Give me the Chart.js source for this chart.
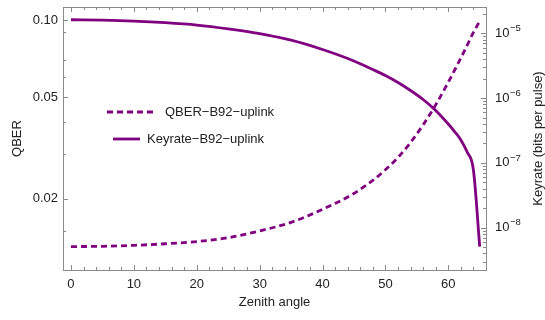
<!DOCTYPE html>
<html lang="en">
<head>
  <meta charset="UTF-8">
  <title>QBER and keyrate vs zenith angle</title>
  <style>
    body {
      margin: 0;
      background: #fff;
    }
  </style>
</head>
<body>
  <canvas id="chart" width="545" height="320"></canvas>

  <script src="https://cdn.jsdelivr.net/npm/chart.js"></script>
  <script>
    // zenith angle (degrees)
    const angles = [0, 5, 10, 15, 20, 25, 30, 35, 40, 45, 48, 50, 52, 54, 56, 58, 60, 61, 62, 63, 64, 65];
    // QBER, B92 uplink
    const qber = [0.01302, 0.01306, 0.01317, 0.01336, 0.01363, 0.01411, 0.01499, 0.0162, 0.01821, 0.0210, 0.02364,
      0.02598, 0.02904, 0.03323, 0.03893, 0.0466, 0.0571, 0.06362, 0.07107, 0.07958, 0.08938, 0.0990];
    // keyrate in bits per pulse, B92 uplink
    const keyrate = [1.622e-5, 1.599e-5, 1.548e-5, 1.462e-5, 1.343e-5, 1.173e-5, 9.89e-6, 7.83e-6, 5.62e-6, 3.74e-6, 2.76e-6,
      2.23e-6, 1.74e-6, 1.31e-6, 9.51e-7, 6.44e-7, 3.98e-7, 3.05e-7, 2.26e-7, 1.47e-7, 7.77e-8, 5.09e-9];

    const xTicks = [0, 10, 20, 30, 40, 50, 60];
    const qberTicks = [0.02, 0.05, 0.10];
    const qberMinor = [0.015, 0.03, 0.04, 0.06, 0.07, 0.09];
    const rateTicks = [1e-8, 1e-7, 1e-6, 1e-5];

    const purple = '#800080';
    const frame = '#8a8a8a';
    const textColor = '#222';
    const family = '"Liberation Sans", Arial, sans-serif';
    const font = { family, size: 13 };

    // scales keep the sizes we give them, no extra label overhang
    const fixSize = (w, h) => (s) => {
      if (w) s.width = w;
      if (h) s.height = h;
      s.paddingTop = 0; s.paddingBottom = 0;
      s.paddingLeft = 0; s.paddingRight = 0;
    };

    // inward ticks on all four sides of the frame, plus the top edge
    const frameTicks = {
      id: 'frameTicks',
      beforeDatasetsDraw(chart) {
        const { ctx, chartArea: a, scales } = chart;
        ctx.save();
        ctx.strokeStyle = frame;
        ctx.lineWidth = 1;
        ctx.beginPath();
        ctx.moveTo(a.left, a.top + 0.5);
        ctx.lineTo(a.right, a.top + 0.5);

        for (let v = 0; v <= 66; v += 2) {
          const px = Math.round(scales.x.getPixelForValue(v)) + 0.5;
          const len = v % 10 === 0 ? 5 : 3;
          ctx.moveTo(px, a.bottom); ctx.lineTo(px, a.bottom - len);
          ctx.moveTo(px, a.top); ctx.lineTo(px, a.top + len);
        }
        const left = (v, len) => {
          const py = Math.round(scales.y.getPixelForValue(v)) + 0.5;
          ctx.moveTo(a.left, py); ctx.lineTo(a.left + len, py);
        };
        qberTicks.forEach(v => left(v, 5));
        qberMinor.forEach(v => left(v, 3));

        const y2 = scales.y2;
        for (let e = -9; e <= -5; e++) {
          for (let k = 1; k <= 9; k++) {
            const v = k * Math.pow(10, e);
            if (v < y2.min || v > y2.max) continue;
            const py = Math.round(y2.getPixelForValue(v)) + 0.5;
            const len = k === 1 ? 5 : 3;
            ctx.moveTo(a.right, py); ctx.lineTo(a.right - len, py);
          }
        }
        ctx.stroke();
        ctx.restore();
      }
    };

    // right axis: power-of-ten labels and the title reading upwards
    const rightAxisText = {
      id: 'rightAxisText',
      afterDraw(chart) {
        const { ctx, chartArea: a } = chart;
        const y2 = chart.scales.y2;
        ctx.save();
        ctx.fillStyle = textColor;
        ctx.textBaseline = 'middle';
        ctx.textAlign = 'left';
        rateTicks.forEach(v => {
          const py = y2.getPixelForValue(v);
          const x0 = a.right + 9;
          ctx.font = `13px ${family}`;
          ctx.fillText('10', x0, py);
          const w = ctx.measureText('10').width;
          ctx.font = `9.5px ${family}`;
          ctx.fillText('\u2212' + Math.abs(Math.round(Math.log10(v))), x0 + w + 0.5, py - 5);
        });
        ctx.font = `13px ${family}`;
        ctx.textAlign = 'center';
        ctx.translate(538.5, (a.top + a.bottom) / 2);
        ctx.rotate(-Math.PI / 2);
        ctx.fillText('Keyrate (bits per pulse)', 0, 0);
        ctx.restore();
      }
    };

    // legend drawn inside the plot, left side
    const innerLegend = {
      id: 'innerLegend',
      afterDraw(chart) {
        const { ctx, chartArea: a } = chart;
        const rows = [
          { ds: chart.data.datasets[0], x0: 44, x1: 90, tx: 102, y: 105 },
          { ds: chart.data.datasets[1], x0: 50, x1: 77, tx: 84, y: 132 }
        ];
        ctx.save();
        ctx.font = `13px ${family}`;
        ctx.fillStyle = textColor;
        ctx.textBaseline = 'middle';
        rows.forEach(r => {
          ctx.strokeStyle = r.ds.borderColor;
          ctx.lineWidth = r.ds.borderWidth;
          ctx.setLineDash(r.ds.borderDash || []);
          ctx.beginPath();
          ctx.moveTo(a.left + r.x0, a.top + r.y);
          ctx.lineTo(a.left + r.x1, a.top + r.y);
          ctx.stroke();
          ctx.fillText(r.ds.label, a.left + r.tx, a.top + r.y + 0.5);
        });
        ctx.restore();
      }
    };

    const ctx = document.getElementById('chart').getContext('2d');
    const chart = new Chart(ctx, {
      type: 'line',
      data: {
        datasets: [{
          label: 'QBER\u2212B92\u2212uplink',
          data: angles.map((a, i) => ({ x: a, y: qber[i] })),
          yAxisID: 'y',
          borderColor: purple,
          borderWidth: 2.8,
          borderDash: [6, 4],
          pointRadius: 0,
          cubicInterpolationMode: 'monotone',
          fill: false
        }, {
          label: 'Keyrate\u2212B92\u2212uplink',
          data: angles.map((a, i) => ({ x: a, y: keyrate[i] })),
          yAxisID: 'y2',
          borderColor: purple,
          borderWidth: 2.8,
          pointRadius: 0,
          cubicInterpolationMode: 'monotone',
          fill: false
        }]
      },
      options: {
        responsive: false,
        devicePixelRatio: 1,
        animation: false,
        layout: { padding: { top: 7, left: 0, right: 0, bottom: 0 } },
        plugins: {
          legend: { display: false },
          tooltip: { enabled: false }
        },
        scales: {
          x: {
            type: 'linear',
            min: -1.27,
            max: 66,
            afterBuildTicks: (s) => { s.ticks = xTicks.map(v => ({ value: v })); },
            afterFit: fixSize(0, 50),
            grid: { display: false, drawTicks: false },
            border: { display: true, color: frame, width: 1 },
            ticks: { color: textColor, font, padding: 7, maxRotation: 0 },
            title: {
              display: true, text: 'Zenith angle', color: textColor,
              font: { ...font, lineHeight: 1 }, padding: { top: 0, bottom: 11 }
            }
          },
          y: {
            type: 'logarithmic',
            position: 'left',
            min: 0.01055,
            max: 0.1124,
            afterBuildTicks: (s) => { s.ticks = qberTicks.map(v => ({ value: v })); },
            afterFit: fixSize(63, 0),
            grid: { display: false, drawTicks: false },
            border: { display: true, color: frame, width: 1 },
            ticks: { color: textColor, font, padding: 5, callback: (v) => Number(v).toFixed(2) },
            title: {
              display: true, text: 'QBER', color: textColor,
              font: { ...font, lineHeight: 1 }, padding: { top: 11, bottom: 0 }
            }
          },
          y2: {
            type: 'logarithmic',
            position: 'right',
            min: 2.22e-9,
            max: 2.55e-5,
            afterFit: fixSize(59, 0),
            grid: { display: false, drawTicks: false },
            border: { display: true, color: frame, width: 1 },
            ticks: { display: false }
          }
        }
      },
      plugins: [frameTicks, rightAxisText, innerLegend]
    });
  </script>
</body>
</html>
